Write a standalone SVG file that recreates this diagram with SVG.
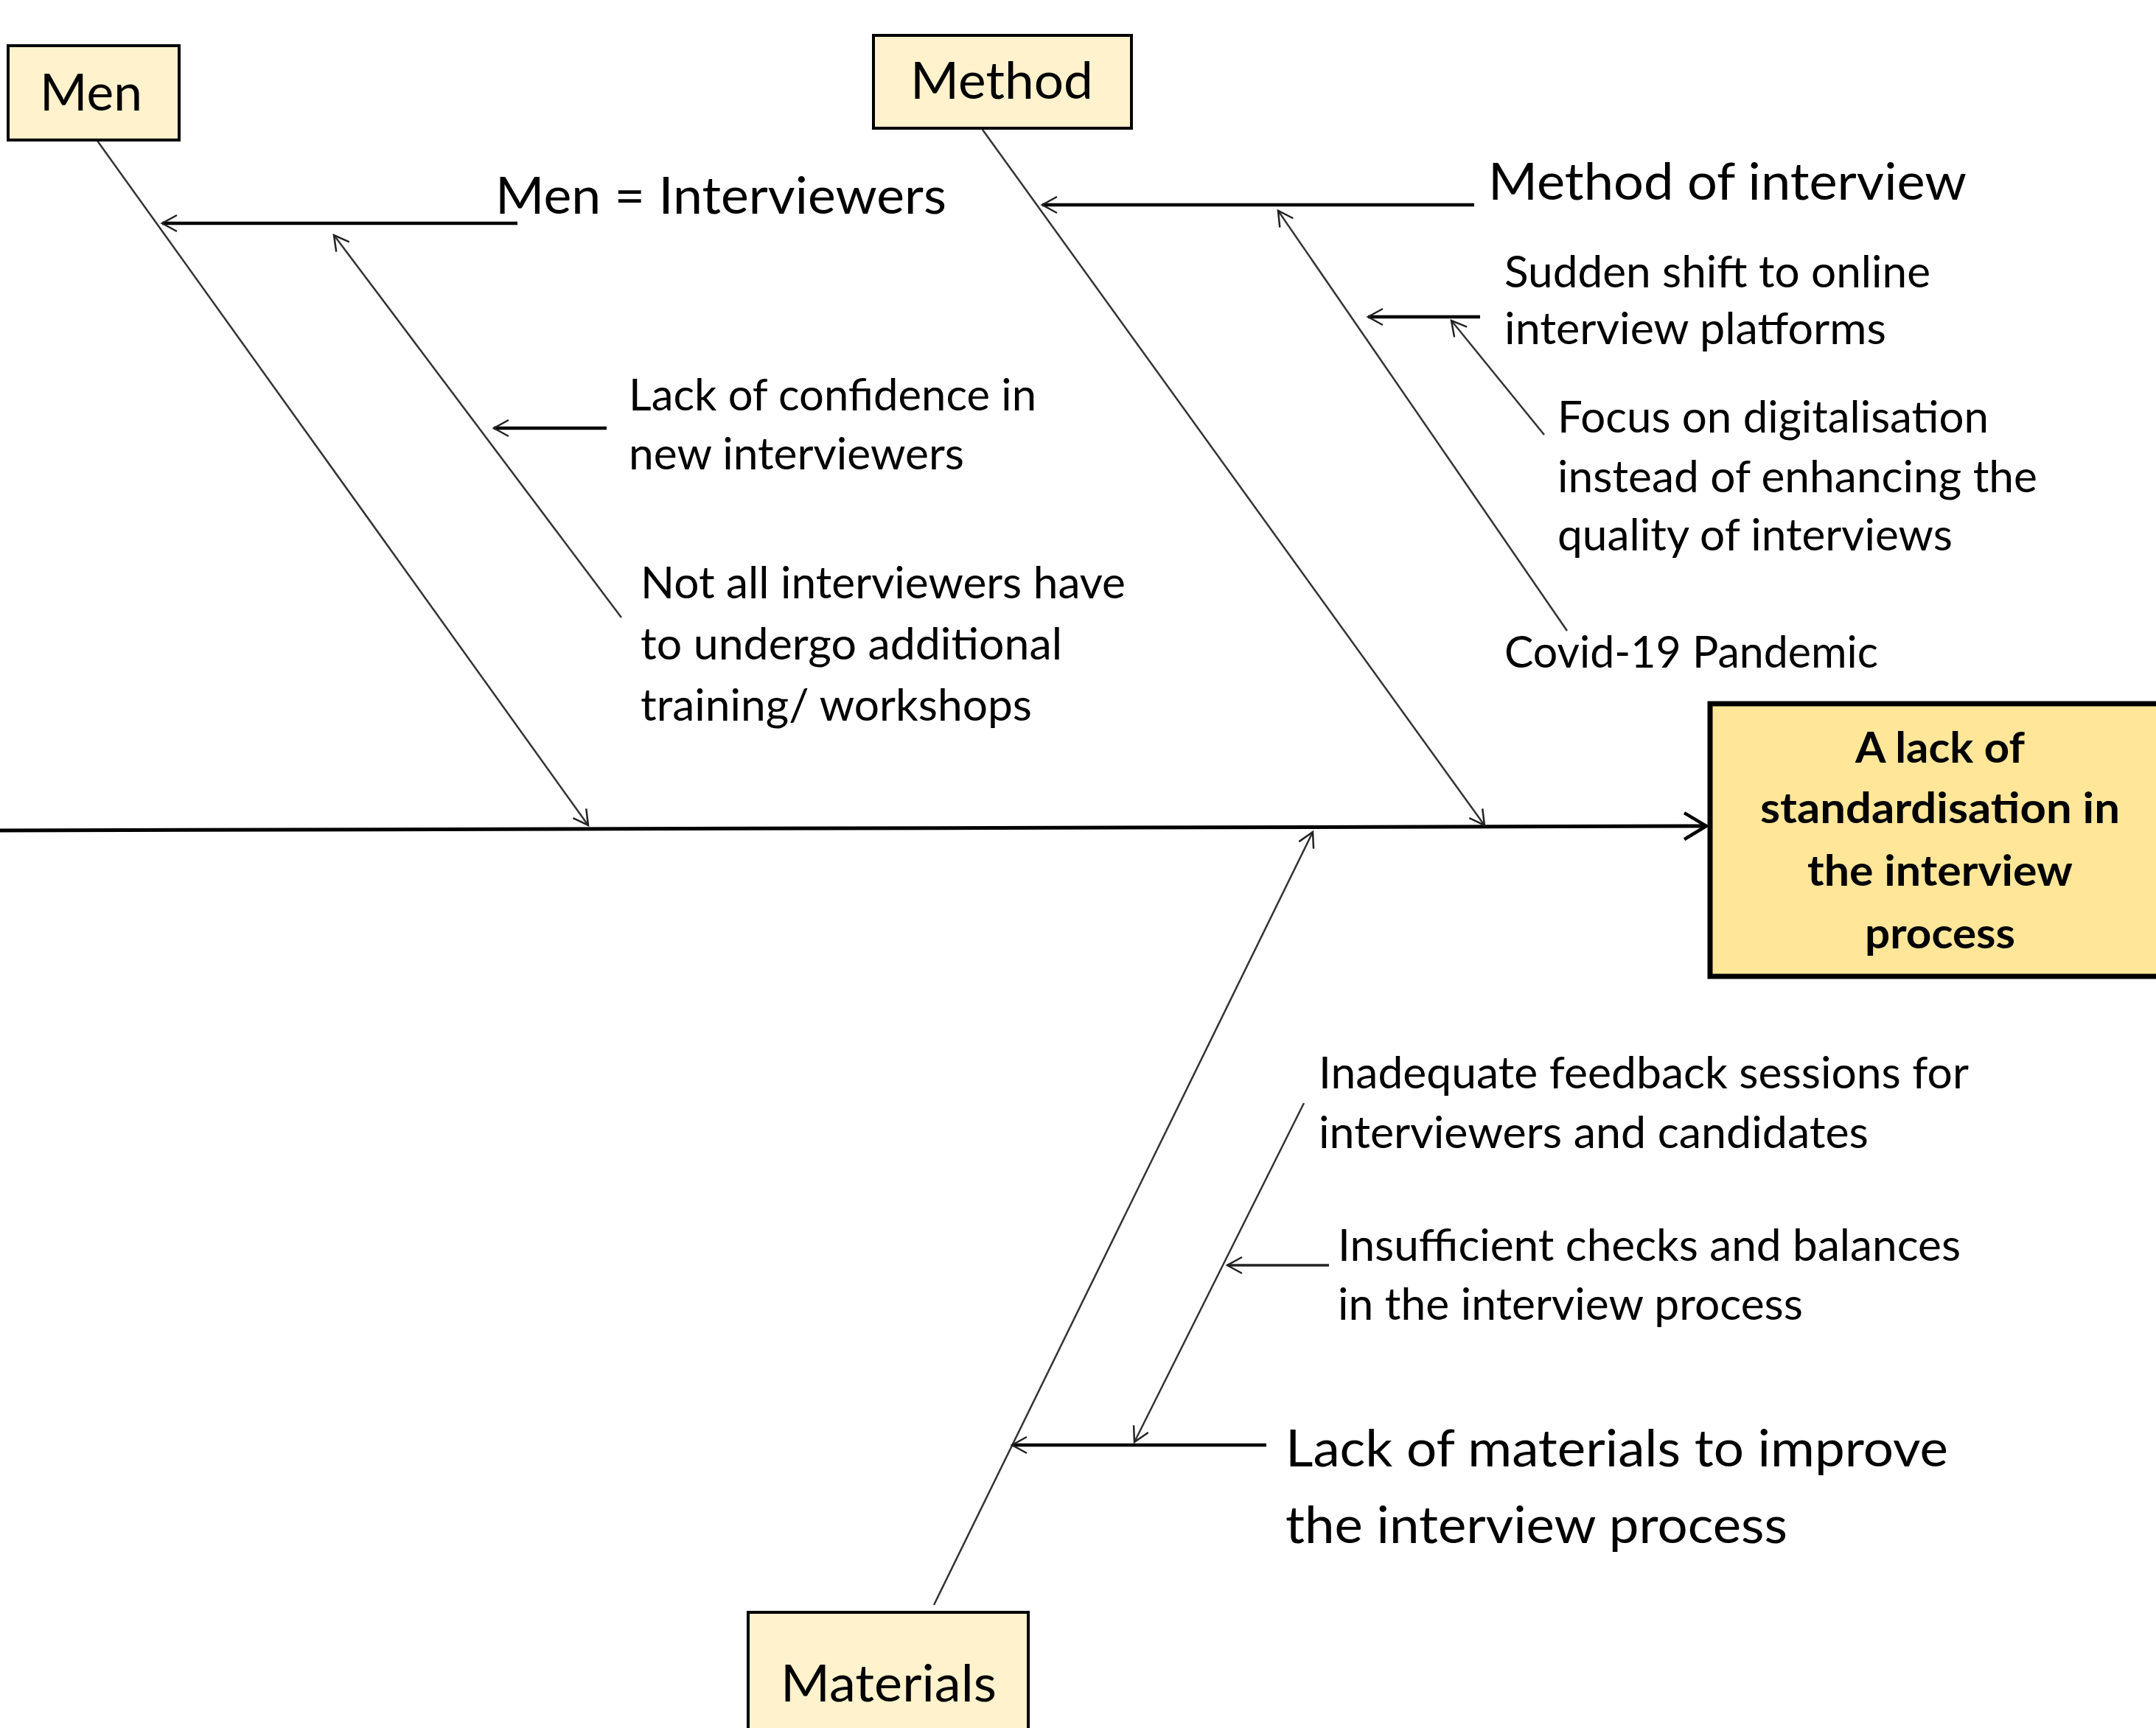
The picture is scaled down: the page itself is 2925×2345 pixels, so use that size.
<svg xmlns="http://www.w3.org/2000/svg" width="2925" height="2345" viewBox="0 0 2925 2345">
<defs>
<style>
.t{font-family:Lato,"Liberation Sans",sans-serif;fill:#000;}
.s{font-size:60px;}
.l{font-size:69px;}
.b{font-size:58px;font-weight:bold;}
.box{fill:#FFF2CC;stroke:#000;stroke-width:4;}
.eff{fill:#FFE699;stroke:#000;stroke-width:7;}
.bone{stroke:#333;stroke-width:2.5;fill:none;}
.br{stroke:#000;stroke-width:4.5;fill:none;}
.br2{stroke:#222;stroke-width:3.5;fill:none;}
</style>
<marker id="ah" markerUnits="userSpaceOnUse" markerWidth="30" markerHeight="30" orient="auto" refX="0" refY="0" style="overflow:visible">
<path d="M -20,-11 L 0,0 L -20,11" fill="none" stroke="#222" stroke-width="2.5"/>
</marker>
<marker id="ahb" markerUnits="userSpaceOnUse" markerWidth="40" markerHeight="40" orient="auto" refX="0" refY="0" style="overflow:visible">
<path d="M -30,-18 L 0,0 L -30,18" fill="none" stroke="#000" stroke-width="4.5"/>
</marker>
</defs>
<rect width="2925" height="2345" fill="#fff"/>

<g id="connectors">
<line x1="0" y1="1127" x2="2315" y2="1121" stroke="#000" stroke-width="5" marker-end="url(#ahb)"/>
<line class="bone" x1="132" y1="191" x2="798" y2="1120" marker-end="url(#ah)"/>
<line class="bone" x1="1333" y1="176" x2="2014" y2="1120" marker-end="url(#ah)"/>
<line class="bone" x1="1267" y1="2178" x2="1781" y2="1129" marker-end="url(#ah)"/>
<line class="br" x1="702" y1="303" x2="220" y2="303" marker-end="url(#ah)"/>
<line class="bone" x1="843" y1="838" x2="453" y2="319" marker-end="url(#ah)"/>
<line class="br" x1="823" y1="581" x2="670" y2="581" marker-end="url(#ah)"/>
<line class="br" x1="2000" y1="278" x2="1414" y2="278" marker-end="url(#ah)"/>
<line class="bone" x1="2126" y1="856" x2="1734" y2="286" marker-end="url(#ah)"/>
<line class="br" x1="2008" y1="430" x2="1856" y2="430" marker-end="url(#ah)"/>
<line class="bone" x1="2095" y1="590" x2="1969" y2="435" marker-end="url(#ah)"/>
<line class="br" x1="1718" y1="1961" x2="1373" y2="1961" marker-end="url(#ah)"/>
<line class="bone" x1="1769" y1="1497" x2="1539" y2="1957" marker-end="url(#ah)"/>
<line class="br2" x1="1803" y1="1717" x2="1665" y2="1717" marker-end="url(#ah)"/>
</g>

<g id="men">
<rect class="box" x="11" y="62" width="232" height="128"/>
<text class="t l" x="54" y="150" textLength="139" lengthAdjust="spacingAndGlyphs">Men</text>
</g>

<g id="method">
<rect class="box" x="1185" y="48" width="350" height="126"/>
<text class="t l" x="1235" y="134" textLength="248" lengthAdjust="spacingAndGlyphs">Method</text>
</g>

<g id="materials">
<rect class="box" x="1015" y="2188" width="380" height="170"/>
<text class="t l" x="1059" y="2309" textLength="293" lengthAdjust="spacingAndGlyphs">Materials</text>
</g>

<g id="effect">
<rect class="eff" x="2320" y="955" width="640" height="370"/>
<text class="t b" x="2632" y="1035" text-anchor="middle" textLength="230" lengthAdjust="spacingAndGlyphs">A lack of</text>
<text class="t b" x="2632" y="1117" text-anchor="middle" textLength="488" lengthAdjust="spacingAndGlyphs">standardisation in</text>
<text class="t b" x="2632" y="1202" text-anchor="middle" textLength="360" lengthAdjust="spacingAndGlyphs">the interview</text>
<text class="t b" x="2632" y="1287" text-anchor="middle" textLength="204" lengthAdjust="spacingAndGlyphs">process</text>
</g>

<g id="men-interviewers">
<text class="t l" x="672" y="290" textLength="612" lengthAdjust="spacingAndGlyphs">Men = Interviewers</text>
</g>

<g id="lack-confidence">
<text class="t s" x="853" y="557" textLength="553" lengthAdjust="spacingAndGlyphs">Lack of confidence in</text>
<text class="t s" x="853" y="637" textLength="455" lengthAdjust="spacingAndGlyphs">new interviewers</text>
</g>

<g id="not-all">
<text class="t s" x="869" y="812" textLength="658" lengthAdjust="spacingAndGlyphs">Not all interviewers have</text>
<text class="t s" x="869" y="895" textLength="572" lengthAdjust="spacingAndGlyphs">to undergo additional</text>
<text class="t s" x="869" y="978" textLength="531" lengthAdjust="spacingAndGlyphs">training/ workshops</text>
</g>

<g id="method-of-interview">
<text class="t l" x="2019" y="271" textLength="649" lengthAdjust="spacingAndGlyphs">Method of interview</text>
</g>

<g id="sudden-shift">
<text class="t s" x="2041" y="390" textLength="578" lengthAdjust="spacingAndGlyphs">Sudden shift to online</text>
<text class="t s" x="2041" y="467" textLength="518" lengthAdjust="spacingAndGlyphs">interview platforms</text>
</g>

<g id="focus">
<text class="t s" x="2113" y="587" textLength="585" lengthAdjust="spacingAndGlyphs">Focus on digitalisation</text>
<text class="t s" x="2113" y="668" textLength="651" lengthAdjust="spacingAndGlyphs">instead of enhancing the</text>
<text class="t s" x="2113" y="747" textLength="536" lengthAdjust="spacingAndGlyphs">quality of interviews</text>
</g>

<g id="covid">
<text class="t s" x="2041" y="906" textLength="507" lengthAdjust="spacingAndGlyphs">Covid-19 Pandemic</text>
</g>

<g id="inadequate">
<text class="t s" x="1789" y="1477" textLength="882" lengthAdjust="spacingAndGlyphs">Inadequate feedback sessions for</text>
<text class="t s" x="1789" y="1558" textLength="746" lengthAdjust="spacingAndGlyphs">interviewers and candidates</text>
</g>

<g id="insufficient">
<text class="t s" x="1815" y="1711" textLength="845" lengthAdjust="spacingAndGlyphs">Insufficient checks and balances</text>
<text class="t s" x="1815" y="1791" textLength="631" lengthAdjust="spacingAndGlyphs">in the interview process</text>
</g>

<g id="lack-materials">
<text class="t l" x="1744" y="1990" textLength="899" lengthAdjust="spacingAndGlyphs">Lack of materials to improve</text>
<text class="t l" x="1744" y="2094" textLength="681" lengthAdjust="spacingAndGlyphs">the interview process</text>
</g>
</svg>
